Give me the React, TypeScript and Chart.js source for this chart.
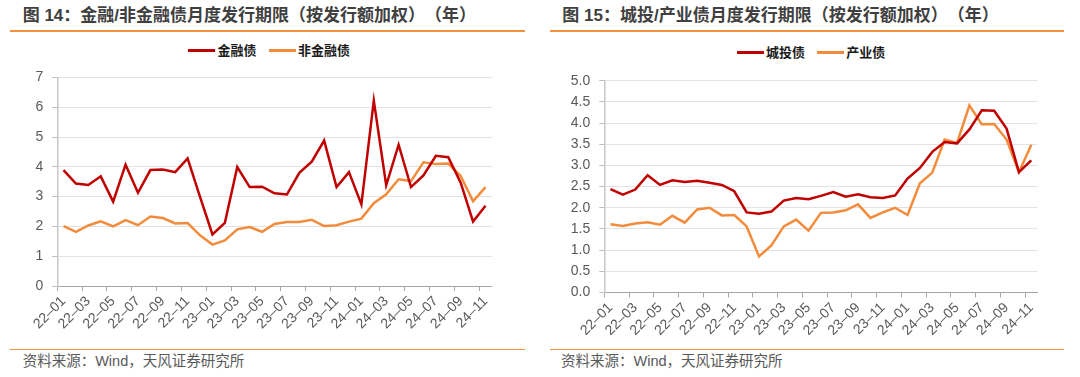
import React, { useEffect, useRef } from 'react';
import { Chart, registerables } from 'chart.js';

Chart.register(...registerables);

// ---------- data ----------
const months = [
  '22–01', '22–02', '22–03', '22–04', '22–05', '22–06', '22–07', '22–08', '22–09', '22–10', '22–11', '22–12',
  '23–01', '23–02', '23–03', '23–04', '23–05', '23–06', '23–07', '23–08', '23–09', '23–10', '23–11', '23–12',
  '24–01', '24–02', '24–03', '24–04', '24–05', '24–06', '24–07', '24–08', '24–09', '24–10', '24–11',
];

const financeBond = [
  3.89, 3.44, 3.39, 3.68, 2.83, 4.07, 3.13, 3.89, 3.91, 3.82, 4.28, 2.99,
  1.73, 2.12, 3.99, 3.32, 3.33, 3.11, 3.07, 3.80, 4.17, 4.88, 3.32, 3.82,
  2.74, 6.22, 3.38, 4.74, 3.32, 3.71, 4.37, 4.32, 3.47, 2.16, 2.69,
];
const nonFinanceBond = [
  2.01, 1.82, 2.03, 2.17, 2.00, 2.21, 2.04, 2.33, 2.28, 2.10, 2.11, 1.70,
  1.39, 1.53, 1.90, 1.98, 1.82, 2.08, 2.15, 2.15, 2.22, 2.01, 2.04, 2.16,
  2.26, 2.78, 3.08, 3.58, 3.52, 4.15, 4.09, 4.11, 3.69, 2.84, 3.32,
];
const urbanBond = [
  2.44, 2.31, 2.43, 2.77, 2.54, 2.65, 2.61, 2.64, 2.59, 2.54, 2.39, 1.89,
  1.86, 1.91, 2.17, 2.23, 2.20, 2.28, 2.37, 2.26, 2.32, 2.25, 2.23, 2.29,
  2.69, 2.94, 3.32, 3.55, 3.52, 3.85, 4.30, 4.29, 3.87, 2.84, 3.12,
];
const industryBond = [
  1.61, 1.57, 1.63, 1.66, 1.60, 1.81, 1.65, 1.96, 2.00, 1.82, 1.83, 1.56,
  0.85, 1.11, 1.56, 1.72, 1.46, 1.88, 1.89, 1.94, 2.08, 1.76, 1.89, 2.00,
  1.83, 2.58, 2.83, 3.61, 3.53, 4.42, 3.97, 3.98, 3.61, 2.84, 3.49,
];

const RED = '#C00000';
const ORANGE = '#F28C3C';
const RULE = '#F5903F';

const FONT = '"Liberation Sans", "Noto Sans CJK SC", sans-serif';

type Series = { label: string; data: number[]; color: string };

type ChartProps = {
  series: Series[];
  yMax: number;
  yStep: number;
  decimals: number;
  left: number;
  top: number;
  width: number;
  height: number;
  padding: { left: number; right: number; top: number; bottom: number };
  yWidth: number;
  xHeight: number;
};

function LineChart(p: ChartProps) {
  const ref = useRef<HTMLCanvasElement>(null);
  useEffect(() => {
    if (!ref.current) return;
    const chart = new Chart(ref.current, {
      type: 'line',
      data: {
        labels: months,
        datasets: p.series.map((s) => ({
          label: s.label,
          data: s.data,
          borderColor: s.color,
          backgroundColor: s.color,
          borderWidth: 2.5,
          pointRadius: 0,
          tension: 0,
          fill: false,
        })),
      },
      options: {
        animation: false,
        responsive: false,
        devicePixelRatio: 1,
        layout: { padding: p.padding },
        plugins: { legend: { display: false }, tooltip: { enabled: false } },
        scales: {
          x: {
            offset: true,
            grid: {
              display: true,
              drawOnChartArea: false,
              drawTicks: true,
              tickLength: 5,
              offset: true,
              tickWidth: 1,
              tickColor: (ctx: any) =>
                ctx.index !== undefined && ctx.type === 'tick' && ctx.index % 2 === 0 ? '#a6a6a6' : 'rgba(0,0,0,0)',
            },
            border: { display: true, color: '#a6a6a6', width: 1 },
            ticks: {
              autoSkip: false,
              maxRotation: 45,
              minRotation: 45,
              padding: 2,
              color: '#595959',
              font: { family: FONT, size: 14 },
              callback: (_v: any, i: number) => (i % 2 === 0 ? months[i] : ''),
            },
            afterFit: (s: any) => {
              s.height = p.xHeight;
            },
          },
          y: {
            min: 0,
            max: p.yMax,
            ticks: {
              stepSize: p.yStep,
              padding: 9,
              color: '#595959',
              font: { family: FONT, size: 14 },
              callback: (v: any) => Number(v).toFixed(p.decimals),
            },
            grid: {
              color: '#e2e2e2',
              lineWidth: 1,
              drawTicks: true,
              tickLength: 5,
              tickColor: '#bfbfbf',
            },
            border: { display: true, color: '#c8c8c8', width: 1.5 },
            afterFit: (s: any) => {
              s.width = p.yWidth;
            },
          },
        },
      },
    } as any);
    return () => chart.destroy();
  }, []);
  return (
    <canvas
      ref={ref}
      width={p.width}
      height={p.height}
      style={{ position: 'absolute', left: p.left, top: p.top, width: p.width, height: p.height }}
    />
  );
}

function Legend({ items, left, centerY }: { items: Series[]; left: number; centerY: number }) {
  return (
    <div
      style={{
        position: 'absolute',
        left,
        top: centerY - 10,
        height: 20,
        display: 'flex',
        alignItems: 'center',
        whiteSpace: 'nowrap',
      }}
    >
      {items.map((it, i) => (
        <div key={i} style={{ display: 'flex', alignItems: 'center', marginLeft: i === 0 ? 0 : 12 }}>
          <span style={{ display: 'inline-block', width: 27, height: 2.5, background: it.color, marginRight: 2.3 }} />
          <span style={{ fontFamily: FONT, fontSize: 13, fontWeight: 700, color: '#1a1a1a', lineHeight: '20px' }}>
            {it.label}
          </span>
        </div>
      ))}
    </div>
  );
}

function Title({ text, left }: { text: string; left: number }) {
  return (
    <div
      style={{
        position: 'absolute',
        left,
        top: 6,
        lineHeight: '20px',
        fontFamily: FONT,
        fontSize: 17,
        fontWeight: 700,
        color: '#404040',
        whiteSpace: 'nowrap',
        textSpacingTrim: 'space-all',
      } as any}
    >
      {text}
    </div>
  );
}

function Rule({ left, top, width }: { left: number; top: number; width: number }) {
  return <div style={{ position: 'absolute', left, top, width, height: 1.8, background: RULE }} />;
}

function Source({ left }: { left: number }) {
  return (
    <div
      style={{
        position: 'absolute',
        left,
        top: 351,
        lineHeight: '20px',
        fontFamily: FONT,
        fontSize: 14.5,
        color: '#595959',
        whiteSpace: 'nowrap',
        textSpacingTrim: 'space-all',
      } as any}
    >
      资料来源：Wind，天风证券研究所
    </div>
  );
}

export default function App() {
  const s1: Series[] = [
    { label: '金融债', data: financeBond, color: RED },
    { label: '非金融债', data: nonFinanceBond, color: ORANGE },
  ];
  const s2: Series[] = [
    { label: '城投债', data: urbanBond, color: RED },
    { label: '产业债', data: industryBond, color: ORANGE },
  ];
  return (
    <div
      style={{
        position: 'absolute',
        left: 0,
        top: 0,
        width: 1080,
        height: 377,
        background: '#fff',
        overflow: 'hidden',
      }}
    >
      <Title text="图 14：金融/非金融债月度发行期限（按发行额加权）（年）" left={22.7} />
      <Title text="图 15：城投/产业债月度发行期限（按发行额加权）（年）" left={562.3} />
      <Rule left={10} top={29.8} width={515} />
      <Rule left={550} top={29.8} width={514} />
      <Legend items={s1} left={188.3} centerY={50.7} />
      <Legend items={s2} left={736.7} centerY={52.7} />
      <LineChart
        series={s1}
        yMax={7}
        yStep={1}
        decimals={0}
        left={0}
        top={60}
        width={540}
        height={290}
        padding={{ left: 0, right: 48.3, top: 17.3, bottom: 0 }}
        yWidth={57.3}
        xHeight={64}
      />
      <LineChart
        series={s2}
        yMax={5}
        yStep={0.5}
        decimals={1}
        left={540}
        top={60}
        width={540}
        height={290}
        padding={{ left: 0, right: 42.5, top: 20.7, bottom: 0 }}
        yWidth={64.3}
        xHeight={57.5}
      />
      <Rule left={10} top={348.5} width={515} />
      <Rule left={550} top={348.5} width={514} />
      <Source left={22.7} />
      <Source left={561} />
    </div>
  );
}
